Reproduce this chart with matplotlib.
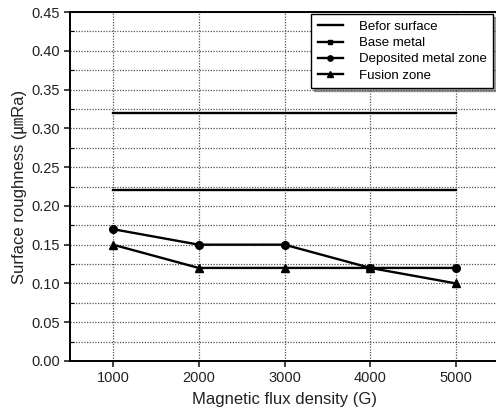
import matplotlib
matplotlib.use("Agg")
import matplotlib.pyplot as plt
from matplotlib.ticker import MultipleLocator

plt.rcParams["font.family"] = ["Liberation Sans", "Noto Sans CJK KR", "DejaVu Sans"]

# data
field = [1000, 2000, 3000, 4000, 5000]
befor_upper = [0.32, 0.32, 0.32, 0.32, 0.32]
befor_lower = [0.22, 0.22, 0.22, 0.22, 0.22]
base_x = [4000]
base_metal = [0.12]
deposited = [0.17, 0.15, 0.15, 0.12, 0.12]
fusion = [0.15, 0.12, 0.12, 0.12, 0.10]

fig = plt.figure(figsize=(4.96, 4.13), dpi=100)
ax = fig.add_axes([70 / 496, 1 - 361 / 413, 429 / 496, 349 / 413])

ax.plot(field, befor_upper, color="black", lw=1.7, label="Befor surface")
ax.plot(field, befor_lower, color="black", lw=1.7)
ax.plot(base_x, base_metal, color="black", lw=1.7, marker="s", ms=5, label="Base metal")
ax.plot(field, deposited, color="black", lw=1.7, marker="o", ms=5.5, label="Deposited metal zone")
ax.plot(field, fusion, color="black", lw=1.7, marker="^", ms=6, label="Fusion zone")

ax.set_xlim(500, 5500)
ax.set_ylim(0, 0.45)
ax.set_xticks(field)
ax.yaxis.set_major_locator(MultipleLocator(0.05))
ax.yaxis.set_minor_locator(MultipleLocator(0.025))
ax.yaxis.set_major_formatter(matplotlib.ticker.FormatStrFormatter("%.2f"))

ax.grid(True, which="major", axis="both", color="#555555", ls=(0, (1, 1.2)), lw=0.9)
ax.grid(True, which="minor", axis="y", color="#555555", ls=(0, (1, 1.2)), lw=0.9)
ax.tick_params(axis="both", which="major", direction="out", length=4, width=1.2, labelsize=10.5,
               colors="#222222", pad=3)
ax.tick_params(axis="y", which="minor", direction="in", length=3, width=0.8)
for s in ax.spines.values():
    s.set_linewidth(1.4)

ax.set_xlabel("Magnetic flux density (G)", fontsize=12, color="#222222", labelpad=5)
ax.set_ylabel("Surface roughness (㎛Ra)", fontsize=12, color="#222222", labelpad=3)

leg = ax.legend(loc="upper right", bbox_to_anchor=(0.986, 0.994), borderaxespad=0,
                fontsize=9.5, frameon=True, fancybox=False, shadow=True,
                handlelength=1.9, borderpad=0.5, labelspacing=0.3, handletextpad=1.2,
                edgecolor="black", markerscale=0.7)
leg.get_frame().set_linewidth(1.0)

fig.savefig("out.png", dpi=100)
